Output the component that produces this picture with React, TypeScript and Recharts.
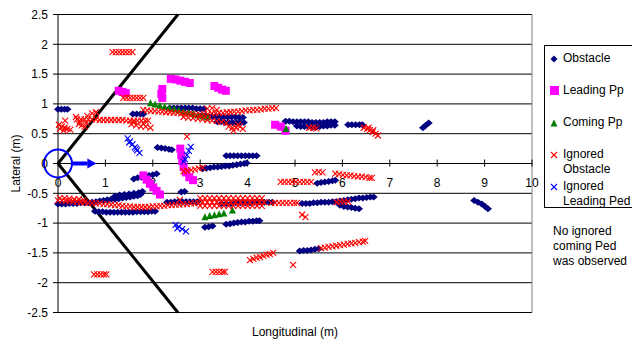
import {
  CartesianGrid,
  Legend,
  ReferenceDot,
  ReferenceLine,
  Scatter,
  ScatterChart,
  XAxis,
  YAxis,
} from "recharts";

type Pt = [number, number];

const FONT = "Arial, 'Liberation Sans', sans-serif";

const xTicks = [0, 1, 2, 3, 4, 5, 6, 7, 8, 9, 10];
const yTicks = [-2.5, -2, -1.5, -1, -0.5, 0, 0.5, 1, 1.5, 2, 2.5];

const seriesNames = [
  "Obstacle",
  "Leading Pp",
  "Coming Pp",
  "Ignored Obstacle",
  "Ignored Leading Ped",
];

const obstacle: Pt[] = [
  [0.0, 0.91], [0.07, 0.91], [0.14, 0.91], [0.2, 0.91],
  [1.58, 0.83], [1.66, 0.83], [1.74, 0.83], [1.8, 0.83],
  [2.36, 0.93], [2.44, 0.93], [2.52, 0.93], [2.6, 0.93], [2.68, 0.93], [2.76, 0.93],
  [2.84, 0.93], [2.92, 0.92], [3.0, 0.92], [3.08, 0.92],
  [3.02, 0.8], [3.1, 0.8], [3.18, 0.79], [3.26, 0.79], [3.34, 0.79], [3.42, 0.79],
  [3.5, 0.78], [3.58, 0.78], [3.66, 0.78], [3.74, 0.78], [3.82, 0.77], [3.9, 0.77],
  [3.36, 0.7], [3.44, 0.7], [3.52, 0.69], [3.6, 0.69], [3.68, 0.69], [3.76, 0.69],
  [3.84, 0.69], [3.92, 0.69],
  [2.1, 0.27], [2.18, 0.26], [2.26, 0.25], [2.34, 0.24], [2.4, 0.23],
  [3.55, 0.13], [3.63, 0.13], [3.71, 0.13], [3.79, 0.13], [3.87, 0.13], [3.95, 0.13],
  [4.03, 0.13], [4.11, 0.13], [4.19, 0.13],
  [3.05, -0.09], [3.13, -0.08], [3.21, -0.07], [3.29, -0.06], [3.37, -0.06], [3.45, -0.05],
  [3.53, -0.04], [3.61, -0.04], [3.69, -0.03], [3.77, -0.02], [3.85, -0.01], [3.93, 0.0],
  [3.98, 0.01],
  [4.8, 0.71], [4.88, 0.71], [4.96, 0.7], [5.04, 0.7], [5.12, 0.7], [5.2, 0.7],
  [5.28, 0.7], [5.36, 0.69], [5.44, 0.69], [5.52, 0.69], [5.6, 0.69], [5.68, 0.7],
  [5.76, 0.7], [5.84, 0.7],
  [5.04, 0.63], [5.12, 0.62], [5.2, 0.62], [5.28, 0.62], [5.36, 0.61], [5.44, 0.61],
  [5.52, 0.62], [5.6, 0.63], [5.68, 0.63], [5.76, 0.64], [5.84, 0.64],
  [6.12, 0.65], [6.2, 0.65], [6.28, 0.65], [6.36, 0.65], [6.42, 0.65],
  [7.7, 0.6], [7.76, 0.64], [7.82, 0.68],
  [0.0, -0.68], [0.08, -0.68], [0.16, -0.68], [0.24, -0.67], [0.32, -0.67], [0.4, -0.67],
  [0.48, -0.66], [0.56, -0.66], [0.64, -0.66], [0.72, -0.65], [0.8, -0.64], [0.88, -0.63],
  [0.96, -0.62], [1.04, -0.61], [1.12, -0.6], [1.2, -0.6], [1.28, -0.59], [1.36, -0.58],
  [1.44, -0.57], [1.52, -0.56], [1.6, -0.55], [1.68, -0.54], [1.74, -0.52],
  [1.2, -0.55], [1.3, -0.53], [1.4, -0.52], [1.5, -0.51], [1.6, -0.5], [1.7, -0.49],
  [1.78, -0.47],
  [0.78, -0.8], [0.86, -0.81], [0.94, -0.81], [1.02, -0.82], [1.1, -0.82], [1.18, -0.82],
  [1.26, -0.82], [1.34, -0.82], [1.42, -0.82], [1.5, -0.82], [1.58, -0.82], [1.66, -0.81],
  [1.74, -0.81], [1.82, -0.81], [1.9, -0.81], [1.98, -0.8], [2.05, -0.8],
  [1.6, -0.26], [1.68, -0.24], [1.76, -0.23], [1.84, -0.21], [1.92, -0.2], [2.0, -0.19],
  [2.08, -0.17],
  [2.6, -0.48], [2.67, -0.47],
  [2.3, -0.65], [2.38, -0.65], [2.46, -0.64], [2.54, -0.64], [2.62, -0.64], [2.7, -0.64],
  [2.78, -0.64], [2.86, -0.64], [2.94, -0.64],
  [3.45, -0.67], [3.55, -0.67], [3.65, -0.67], [3.75, -0.66], [3.85, -0.66], [3.95, -0.66],
  [4.05, -0.66], [4.15, -0.65], [4.25, -0.65], [4.35, -0.65], [4.45, -0.65], [4.52, -0.65],
  [3.1, -1.07], [3.18, -1.06], [3.26, -1.05],
  [3.55, -1.02], [3.63, -1.01], [3.71, -1.0], [3.79, -0.99], [3.87, -0.98], [3.95, -0.98],
  [4.03, -0.97], [4.11, -0.97], [4.19, -0.96], [4.25, -0.96],
  [5.15, -0.67], [5.23, -0.67], [5.31, -0.67], [5.39, -0.66], [5.47, -0.66], [5.55, -0.65],
  [5.63, -0.65], [5.71, -0.65], [5.79, -0.64], [5.87, -0.64], [5.95, -0.63], [6.03, -0.62],
  [6.11, -0.61], [6.19, -0.6], [6.27, -0.59], [6.35, -0.58], [6.43, -0.58], [6.51, -0.57],
  [6.59, -0.56], [6.66, -0.56],
  [5.95, -0.7], [6.03, -0.72], [6.11, -0.73], [6.19, -0.74], [6.27, -0.75], [6.35, -0.76],
  [8.78, -0.62], [8.86, -0.65], [8.94, -0.68], [9.01, -0.72], [9.07, -0.76],
  [5.1, -1.47], [5.18, -1.46], [5.26, -1.46], [5.34, -1.45], [5.42, -1.44], [5.5, -1.43],
  [5.47, -0.33], [5.55, -0.32], [5.63, -0.31], [5.71, -0.3], [5.79, -0.29], [5.85, -0.28],
];

const leadingPp: Pt[] = [
  [1.28, 1.22], [1.36, 1.2], [1.43, 1.18],
  [2.2, 1.25], [2.18, 1.17], [2.2, 1.1],
  [2.38, 1.42], [2.48, 1.41], [2.58, 1.39], [2.68, 1.37], [2.78, 1.35],
  [3.3, 1.3], [3.38, 1.27], [3.46, 1.24], [3.54, 1.22],
  [4.58, 0.65], [4.7, 0.62], [4.8, 0.55],
  [2.58, 0.25], [2.6, 0.14], [2.62, 0.04], [2.65, -0.06], [2.7, -0.15], [2.77, -0.23],
  [2.85, -0.28],
  [1.8, -0.2], [1.87, -0.27], [1.94, -0.34], [2.01, -0.4], [2.08, -0.46], [2.15, -0.52],
];

const comingPp: Pt[] = [
  [1.95, 1.01], [2.05, 0.99], [2.15, 0.97], [2.25, 0.95], [2.35, 0.93], [2.45, 0.91],
  [2.55, 0.89], [2.65, 0.87], [2.75, 0.85], [2.85, 0.83], [2.95, 0.81], [3.05, 0.79],
  [3.15, 0.77],
  [4.81, 0.58],
  [3.1, -0.9], [3.2, -0.88], [3.3, -0.87], [3.4, -0.85], [3.5, -0.84], [3.68, -0.79],
];

const ignoredObstacle: Pt[] = [
  [1.15, 1.87], [1.22, 1.87], [1.29, 1.87], [1.36, 1.87], [1.43, 1.87], [1.5, 1.87], [1.57, 1.87],
  [1.38, 1.1], [1.45, 1.1], [1.52, 1.1], [1.59, 1.1], [1.66, 1.1], [1.73, 1.1], [1.8, 1.1],
  [0.02, 0.65], [0.08, 0.62], [0.14, 0.6], [0.2, 0.58], [0.26, 0.57], [0.04, 0.58],
  [0.12, 0.55], [0.15, 0.72],
  [0.38, 0.78], [0.44, 0.66], [0.5, 0.64], [0.56, 0.62], [0.62, 0.8], [0.72, 0.84],
  [0.8, 0.86], [0.46, 0.7], [0.6, 0.68],
  [0.4, 0.74], [0.48, 0.74], [0.56, 0.74], [0.64, 0.74], [0.72, 0.74], [0.8, 0.74],
  [0.88, 0.73], [0.96, 0.73], [1.04, 0.73], [1.12, 0.73], [1.2, 0.73], [1.28, 0.73],
  [1.36, 0.73], [1.44, 0.72], [1.52, 0.72], [1.6, 0.72], [1.68, 0.72], [1.76, 0.72],
  [1.84, 0.72], [1.9, 0.72],
  [1.55, 0.66], [1.65, 0.64], [1.75, 0.62], [1.85, 0.62], [1.95, 0.6], [1.6, 0.69],
  [1.8, 0.67],
  [1.8, 0.9], [1.88, 0.89], [1.96, 0.88], [2.04, 0.88], [2.12, 0.87], [2.2, 0.87],
  [2.28, 0.86], [2.36, 0.86], [2.44, 0.85], [2.52, 0.85], [2.6, 0.84], [2.68, 0.84],
  [2.76, 0.83], [2.84, 0.83], [2.92, 0.82], [3.0, 0.82],
  [3.08, 0.83], [3.16, 0.83], [3.24, 0.84], [3.32, 0.84], [3.4, 0.85], [3.48, 0.85],
  [3.56, 0.86], [3.64, 0.86], [3.72, 0.87], [3.8, 0.87], [3.88, 0.88], [3.96, 0.89],
  [4.04, 0.89], [4.12, 0.9], [4.2, 0.9], [4.28, 0.91], [4.36, 0.92], [4.44, 0.92],
  [4.52, 0.93], [4.6, 0.93], [3.15, 0.92], [3.25, 0.93], [3.35, 0.9],
  [2.65, 0.78], [2.75, 0.77], [2.85, 0.76], [2.95, 0.75], [3.05, 0.74], [3.15, 0.73],
  [3.25, 0.72], [3.35, 0.71], [3.45, 0.7], [3.55, 0.68], [3.6, 0.62], [3.68, 0.6],
  [3.76, 0.6], [3.84, 0.62], [3.9, 0.58], [3.7, 0.55], [3.8, 0.65],
  [2.72, 0.45],
  [5.3, 0.6], [5.38, 0.6], [5.45, 0.59],
  [6.45, 0.6], [6.52, 0.58], [6.58, 0.56], [6.64, 0.53], [6.7, 0.5], [6.75, 0.47],
  [6.55, 0.6], [6.65, 0.56],
  [0.0, -0.62], [0.08, -0.62], [0.16, -0.63], [0.24, -0.63], [0.32, -0.64], [0.4, -0.64],
  [0.48, -0.65], [0.56, -0.65], [0.64, -0.66], [0.72, -0.66], [0.8, -0.67], [0.88, -0.67],
  [0.96, -0.68], [1.04, -0.68], [1.12, -0.69], [1.2, -0.7], [1.28, -0.7], [1.36, -0.71],
  [1.44, -0.72], [1.52, -0.72], [1.6, -0.73], [1.68, -0.73], [1.76, -0.73], [1.84, -0.73],
  [1.92, -0.73], [2.0, -0.72], [2.08, -0.72], [2.16, -0.71], [2.24, -0.71], [2.32, -0.7],
  [2.4, -0.7], [2.48, -0.69], [2.56, -0.69], [2.64, -0.68], [2.72, -0.68], [2.8, -0.67],
  [2.88, -0.67], [2.96, -0.66],
  [0.04, -0.58], [0.14, -0.58], [0.24, -0.59], [0.34, -0.6], [0.44, -0.6], [0.54, -0.61],
  [2.57, -0.61],
  [3.0, -0.58], [3.1, -0.58], [3.2, -0.58], [3.3, -0.58], [3.4, -0.58], [3.5, -0.58],
  [3.6, -0.58], [3.7, -0.58], [3.8, -0.58], [3.9, -0.58], [4.0, -0.58], [4.1, -0.58],
  [4.2, -0.58], [4.3, -0.58],
  [3.05, -0.65], [3.15, -0.65], [3.25, -0.65], [3.35, -0.65], [3.45, -0.65], [3.55, -0.65],
  [3.65, -0.65], [3.75, -0.65], [3.85, -0.65], [3.95, -0.65], [4.05, -0.65], [4.15, -0.65],
  [4.25, -0.65], [4.35, -0.65],
  [3.0, -0.71], [3.1, -0.71], [3.2, -0.71], [3.3, -0.71], [3.4, -0.71], [3.5, -0.71],
  [3.6, -0.71], [3.7, -0.71], [3.8, -0.71], [3.9, -0.71], [4.0, -0.71], [4.1, -0.71],
  [4.2, -0.71], [4.3, -0.71],
  [4.5, -0.66], [4.58, -0.66], [4.66, -0.66], [4.74, -0.66], [4.82, -0.66], [4.9, -0.66],
  [4.98, -0.66], [5.04, -0.66],
  [5.88, -0.65], [5.96, -0.64], [6.04, -0.64], [6.12, -0.64],
  [5.15, -0.86], [5.22, -0.9],
  [0.76, -1.86], [0.83, -1.86], [0.9, -1.86], [0.97, -1.86], [1.02, -1.86],
  [3.26, -1.82], [3.33, -1.82], [3.4, -1.82], [3.47, -1.82], [3.52, -1.82],
  [4.05, -1.62], [4.12, -1.6], [4.19, -1.58], [4.26, -1.57], [4.33, -1.55], [4.4, -1.53],
  [4.47, -1.52], [4.54, -1.5],
  [4.96, -1.7],
  [5.55, -1.42], [5.63, -1.41], [5.71, -1.4], [5.79, -1.39], [5.87, -1.38], [5.95, -1.37],
  [6.03, -1.36], [6.11, -1.35], [6.19, -1.34], [6.27, -1.33], [6.35, -1.32], [6.43, -1.31],
  [6.48, -1.3],
  [4.7, -0.31], [4.78, -0.31], [4.86, -0.31], [4.94, -0.31], [5.02, -0.31], [5.1, -0.31],
  [5.18, -0.31], [5.26, -0.31], [5.34, -0.31],
  [5.42, -0.15], [5.5, -0.14], [5.58, -0.15],
  [5.85, -0.17], [5.93, -0.18], [6.01, -0.19], [6.09, -0.2], [6.17, -0.2], [6.25, -0.21],
  [6.33, -0.22], [6.41, -0.22], [6.49, -0.23], [6.57, -0.24], [6.62, -0.24],
  [2.65, -0.13], [2.73, -0.12], [2.81, -0.11], [2.89, -0.1], [2.97, -0.08], [3.05, -0.07],
];

const ignoredLeadingPed: Pt[] = [
  [1.47, 0.42], [1.52, 0.37], [1.57, 0.32], [1.62, 0.27], [1.67, 0.22], [1.72, 0.18],
  [1.5, 0.35], [1.65, 0.25],
  [2.8, 0.28], [2.76, 0.21], [2.72, 0.14], [2.68, 0.07], [2.65, 0.03],
  [2.48, -1.03], [2.55, -1.06], [2.62, -1.1], [2.7, -1.14], [2.52, -1.09],
];

// detection zone boundaries and the vehicle symbol at the origin
const zoneUpper: Pt[] = [[0, 0], [2.53, 2.5]];
const zoneLower: Pt[] = [[0, 0], [2.53, -2.5]];
const arrowShaft: Pt[] = [[0.3, 0], [0.62, 0]];

const toXY = (pts: Pt[]) => pts.map(([x, y]) => ({ x, y }));

const NAVY = "#000080";
const MAGENTA = "#FF00FF";
const GREEN = "#008000";
const RED = "#FF0000";
const BLUE = "#0000FF";

const Diamond = ({ cx, cy }: any) => (
  <polygon
    points={`${cx},${cy - 3.5} ${cx + 4},${cy} ${cx},${cy + 3.5} ${cx - 4},${cy}`}
    fill={NAVY}
  />
);
const Square = ({ cx, cy }: any) => (
  <rect x={cx - 4} y={cy - 4} width={8} height={8} fill={MAGENTA} />
);
const Triangle = ({ cx, cy }: any) => (
  <polygon
    points={`${cx},${cy - 4} ${cx + 3.5},${cy + 3} ${cx - 3.5},${cy + 3}`}
    fill={GREEN}
  />
);
const makeCross = (color: string) => ({ cx, cy }: any) => (
  <g stroke={color} strokeWidth={1.1}>
    <line x1={cx - 3} y1={cy - 3} x2={cx + 3} y2={cy + 3} />
    <line x1={cx - 3} y1={cy + 3} x2={cx + 3} y2={cy - 3} />
  </g>
);
const RedCross = makeCross(RED);
const BlueCross = makeCross(BLUE);

const XTick = ({ cx, cy, value }: any) => (
  <g>
    {value !== 0 && (
      <line x1={cx} y1={cy - 4} x2={cx} y2={cy + 3} stroke="#000" />
    )}
    <text
      x={cx}
      y={cy + 23}
      textAnchor="middle"
      fontSize={12}
      fontFamily={FONT}
      fill="#000"
    >
      {value}
    </text>
  </g>
);

const ArrowHead = ({ cx, cy }: any) => (
  <polygon
    points={`${cx},${cy - 5} ${cx + 9},${cy} ${cx},${cy + 5}`}
    fill={BLUE}
  />
);

const legendMarker: Record<string, any> = {
  Obstacle: (
    <svg width={8} height={8}>
      <polygon points="4,0.5 7.5,4 4,7.5 0.5,4" fill={NAVY} />
    </svg>
  ),
  "Leading Pp": (
    <svg width={9} height={9}>
      <rect x={0} y={0} width={9} height={9} fill={MAGENTA} />
    </svg>
  ),
  "Coming Pp": (
    <svg width={8} height={8}>
      <polygon points="4,0.5 7.5,7.5 0.5,7.5" fill={GREEN} />
    </svg>
  ),
  "Ignored Obstacle": (
    <svg width={8} height={8} stroke={RED} strokeWidth={1.1}>
      <line x1={1} y1={1} x2={7} y2={7} />
      <line x1={1} y1={7} x2={7} y2={1} />
    </svg>
  ),
  "Ignored Leading Ped": (
    <svg width={8} height={8} stroke={BLUE} strokeWidth={1.1}>
      <line x1={1} y1={1} x2={7} y2={7} />
      <line x1={1} y1={7} x2={7} y2={1} />
    </svg>
  ),
};

function LegendBox({ payload }: any) {
  const items = [...(payload || [])].sort(
    (a: any, b: any) => seriesNames.indexOf(a.value) - seriesNames.indexOf(b.value)
  );
  return (
    <div style={{ fontFamily: FONT, fontSize: 12, color: "#000", lineHeight: "15px" }}>
      <div
        style={{
          border: "1px solid #000",
          width: 110,
          height: 163,
          boxSizing: "border-box",
          paddingTop: 5,
        }}
      >
        {items.map((p: any) => (
          <div key={p.value} style={{ display: "flex", height: 32 }}>
            <div
              style={{
                width: 18,
                height: 15,
                display: "flex",
                alignItems: "center",
                justifyContent: "center",
              }}
            >
              {legendMarker[p.value]}
            </div>
            <div style={{ width: 80 }}>{p.value}</div>
          </div>
        ))}
      </div>
      <div style={{ paddingLeft: 9, marginTop: 16 }}>
        No ignored
        <br />
        coming Ped
        <br />
        was observed
      </div>
    </div>
  );
}

export default function App() {
  return (
    <div style={{ width: 632, height: 340, overflow: "hidden" }}>
      <style>{`html,body{margin:0;overflow:hidden;background:#fff}`}</style>
      <ScatterChart
        width={632}
        height={340}
        margin={{ top: 14.5, right: 100, bottom: 0, left: 0 }}
      >
        <CartesianGrid vertical={false} stroke="#000" />
        <XAxis
          type="number"
          dataKey="x"
          domain={[0, 10]}
          ticks={xTicks}
          tick={false}
          tickLine={false}
          axisLine={false}
          height={27.5}
          label={{
            value: "Longitudinal (m)",
            position: "insideBottom",
            offset: 4,
            fontSize: 12,
            fontFamily: FONT,
            fill: "#000",
          }}
        />
        <YAxis
          type="number"
          dataKey="y"
          domain={[-2.5, 2.5]}
          ticks={yTicks}
          interval={0}
          width={58}
          tickSize={5}
          tickMargin={5}
          axisLine={{ stroke: "#000" }}
          tickLine={{ stroke: "#000" }}
          tick={{ fill: "#000", fontSize: 12, fontFamily: FONT }}
          label={{
            value: "Lateral (m)",
            angle: -90,
            position: "insideLeft",
            offset: 16,
            fontSize: 12,
            fontFamily: FONT,
            fill: "#000",
            textAnchor: "middle",
            style: { textAnchor: "middle" },
          }}
        />
        <ReferenceLine x={10} stroke="#808080" />
        <ReferenceLine y={0} stroke="#000" />
        {xTicks.map((t) => (
          <ReferenceDot
            key={t}
            x={t}
            y={0}
            r={0}
            shape={(p: any) => <XTick {...p} value={t} />}
          />
        ))}
        <Legend
          layout="horizontal"
          verticalAlign="middle"
          align="center"
          content={<LegendBox />}
          wrapperStyle={{ left: 544, top: 45, width: 120, height: 230 }}
        />
        <Scatter
          name="Obstacle"
          data={toXY(obstacle)}
          shape={Diamond}
          isAnimationActive={false}
        />
        <Scatter
          name="Leading Pp"
          data={toXY(leadingPp)}
          shape={Square}
          isAnimationActive={false}
        />
        <Scatter
          name="Coming Pp"
          data={toXY(comingPp)}
          shape={Triangle}
          isAnimationActive={false}
        />
        <Scatter
          name="Ignored Obstacle"
          data={toXY(ignoredObstacle)}
          shape={RedCross}
          isAnimationActive={false}
        />
        <Scatter
          name="Ignored Leading Ped"
          data={toXY(ignoredLeadingPed)}
          shape={BlueCross}
          isAnimationActive={false}
        />
        <ReferenceLine segment={toXY(zoneUpper)} stroke="#000" strokeWidth={3} />
        <ReferenceLine segment={toXY(zoneLower)} stroke="#000" strokeWidth={3} />
        <ReferenceDot
          x={0}
          y={0}
          r={14}
          fill="none"
          stroke={BLUE}
          strokeWidth={2}
        />
        <ReferenceLine segment={toXY(arrowShaft)} stroke={BLUE} strokeWidth={4} />
        <ReferenceDot
          x={arrowShaft[1][0]}
          y={arrowShaft[1][1]}
          r={0}
          shape={ArrowHead}
        />
      </ScatterChart>
    </div>
  );
}
